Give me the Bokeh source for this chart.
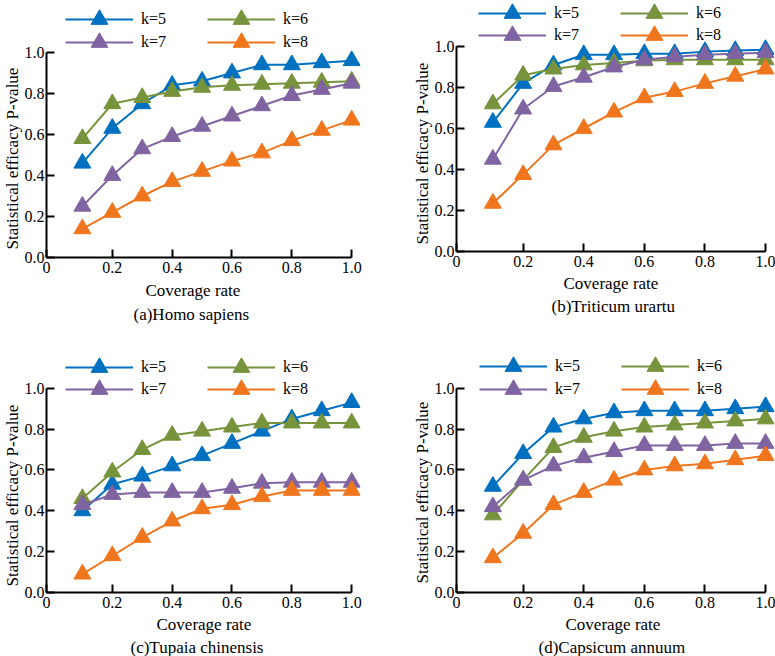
from bokeh.plotting import figure
from bokeh.layouts import row, column
from bokeh.models import (Range1d, FixedTicker, CustomJSTickFormatter, Legend,
                          LegendItem, Title)
from bokeh.embed import file_html
from bokeh.resources import INLINE

# ---- data -------------------------------------------------------------
coverage = [0.1, 0.2, 0.3, 0.4, 0.5, 0.6, 0.7, 0.8, 0.9, 1.0]
series_names = ["k=5", "k=6", "k=7", "k=8"]
series_colors = ["#0070C0", "#77933C", "#8064A2", "#F0761E"]

homo_k5 = [0.46, 0.63, 0.75, 0.84, 0.86, 0.90, 0.94, 0.94, 0.95, 0.96]
homo_k6 = [0.58, 0.75, 0.78, 0.81, 0.83, 0.84, 0.845, 0.85, 0.855, 0.86]
homo_k7 = [0.25, 0.40, 0.53, 0.59, 0.64, 0.69, 0.74, 0.79, 0.82, 0.85]
homo_k8 = [0.14, 0.22, 0.30, 0.37, 0.42, 0.47, 0.51, 0.57, 0.62, 0.67]

triticum_k5 = [0.63, 0.82, 0.91, 0.96, 0.96, 0.965, 0.965, 0.975, 0.98, 0.985]
triticum_k6 = [0.72, 0.86, 0.89, 0.91, 0.92, 0.93, 0.935, 0.935, 0.935, 0.935]
triticum_k7 = [0.45, 0.695, 0.805, 0.85, 0.90, 0.935, 0.95, 0.96, 0.965, 0.97]
triticum_k8 = [0.235, 0.375, 0.52, 0.60, 0.68, 0.75, 0.78, 0.82, 0.855, 0.89]

tupaia_k5 = [0.40, 0.53, 0.57, 0.62, 0.67, 0.73, 0.79, 0.85, 0.89, 0.93]
tupaia_k6 = [0.46, 0.59, 0.70, 0.77, 0.79, 0.81, 0.83, 0.83, 0.83, 0.83]
tupaia_k7 = [0.43, 0.48, 0.49, 0.49, 0.49, 0.51, 0.535, 0.54, 0.54, 0.54]
tupaia_k8 = [0.09, 0.18, 0.27, 0.35, 0.41, 0.43, 0.47, 0.50, 0.50, 0.50]

capsicum_k5 = [0.52, 0.68, 0.81, 0.85, 0.88, 0.89, 0.89, 0.89, 0.90, 0.91]
capsicum_k6 = [0.38, 0.55, 0.71, 0.76, 0.79, 0.81, 0.82, 0.83, 0.84, 0.85]
capsicum_k7 = [0.42, 0.55, 0.62, 0.66, 0.69, 0.72, 0.72, 0.72, 0.73, 0.73]
capsicum_k8 = [0.17, 0.29, 0.43, 0.49, 0.55, 0.60, 0.62, 0.63, 0.65, 0.67]

x_ticks = [-0.02, 0.2, 0.4, 0.6, 0.8, 1.0]
x_tick_labels = ["0", "0.2", "0.4", "0.6", "0.8", "1.0"]
y_ticks = [0.0, 0.2, 0.4, 0.6, 0.8, 1.0]
y_tick_labels = ["0.0", "0.2", "0.4", "0.6", "0.8", "1.0"]

x_title = "Coverage rate"
y_title = "Statistical efficacy P-value"

# ---- layout / style ---------------------------------------------------
FONT = "'Liberation Serif', 'Times New Roman', serif"
FONT_SIZE = "16px"
TITLE_SIZE = "17px"
PX_PER_X = 303.0
PX_PER_Y = 205.0
GLYPH_H = 42

panels = [
    dict(caption="(a)Homo sapiens", data=[homo_k5, homo_k6, homo_k7, homo_k8],
         width=387, height=328, left=42, right=27, top=2, bottom=71,
         legend_x=19, legend_rows=(19, 42),
         ytitle_at=8, xtitle_at=99, xtitle_gap=6, caption_at=87),
    dict(caption="(b)Triticum urartu",
         data=[triticum_k5, triticum_k6, triticum_k7, triticum_k8],
         width=388, height=322, left=69, right=1, top=2, bottom=71,
         legend_x=22, legend_rows=(13, 35),
         ytitle_at=7, xtitle_at=107, xtitle_gap=4, caption_at=95),
    dict(caption="(c)Tupaia chinensis",
         data=[tupaia_k5, tupaia_k6, tupaia_k7, tupaia_k8],
         width=387, height=328, left=42, right=27, top=10, bottom=63,
         legend_x=19, legend_rows=(40, 62),
         ytitle_at=6, xtitle_at=110, xtitle_gap=4, caption_at=84),
    dict(caption="(d)Capsicum annuum",
         data=[capsicum_k5, capsicum_k6, capsicum_k7, capsicum_k8],
         width=388, height=328, left=69, right=1, top=10, bottom=63,
         legend_x=23, legend_rows=(39, 62),
         ytitle_at=9, xtitle_at=109, xtitle_gap=4, caption_at=82),
]


def tick_formatter(positions, texts):
    return CustomJSTickFormatter(
        args=dict(positions=positions, texts=texts),
        code="const i = positions.findIndex(t => Math.abs(t - tick) < 1e-6);"
             "return i >= 0 ? texts[i] : '';")


def side_text(text, offset, standoff=0):
    return Title(text=text, align="left", offset=offset, standoff=standoff,
                 text_font=FONT, text_font_size=TITLE_SIZE,
                 text_font_style="normal", text_color="black")


def make_panel(cfg):
    frame_w = cfg["width"] - cfg["left"] - cfg["right"]
    frame_h = cfg["height"] - cfg["top"] - cfg["bottom"]
    x0 = x_ticks[0]
    p = figure(width=cfg["width"], height=cfg["height"], output_backend="svg",
               toolbar_location=None,
               x_range=Range1d(x0, x0 + frame_w / PX_PER_X),
               y_range=Range1d(0, frame_h / PX_PER_Y),
               min_border_left=cfg["left"], min_border_right=cfg["right"],
               min_border_top=cfg["top"], min_border_bottom=cfg["bottom"])
    p.outline_line_color = None
    p.grid.visible = False
    p.background_fill_color = "white"
    p.border_fill_color = "white"

    for ax, ticks, labels, bounds in ((p.xaxis[0], x_ticks, x_tick_labels, (x0, 1.0)),
                                      (p.yaxis[0], y_ticks, y_tick_labels, (0.0, 1.0))):
        ax.ticker = FixedTicker(ticks=ticks)
        ax.formatter = tick_formatter(ticks, labels)
        ax.bounds = bounds
        ax.axis_line_width = 2
        ax.axis_line_color = "black"
        ax.major_tick_line_width = 2
        ax.major_tick_line_color = "black"
        ax.major_tick_in = 8
        ax.major_tick_out = 0
        ax.minor_tick_line_color = None
        ax.major_label_text_font = FONT
        ax.major_label_text_font_size = FONT_SIZE
        ax.major_label_text_color = "black"
    p.xaxis.major_label_standoff = 4
    p.yaxis.major_label_standoff = 2

    # axis titles and panel caption
    p.add_layout(side_text(y_title, cfg["ytitle_at"]), "left")
    p.add_layout(side_text(x_title, cfg["xtitle_at"], cfg["xtitle_gap"]), "below")
    p.add_layout(side_text(cfg["caption"], cfg["caption_at"]), "below")

    items = []
    for name, color, values in zip(series_names, series_colors, cfg["data"]):
        ln = p.line(coverage, values, line_color=color, line_width=2)
        mk = p.scatter(coverage, values, marker="triangle", size=17,
                       fill_color=color, line_color=color)
        items.append(LegendItem(label=name, renderers=[ln, mk]))

    # two single-row legends: (k=5, k=6) above (k=7, k=8)
    frame_bottom = cfg["height"] - cfg["bottom"]
    for row_items, row_center in zip((items[:2], items[2:]), cfg["legend_rows"]):
        legend = Legend(items=row_items, orientation="horizontal",
                        location=(cfg["legend_x"], frame_bottom - row_center - GLYPH_H // 2),
                        glyph_width=68, glyph_height=GLYPH_H, label_height=GLYPH_H,
                        label_width=66, label_standoff=8, spacing=0,
                        padding=0, margin=0, background_fill_alpha=0,
                        border_line_alpha=0, label_text_font=FONT,
                        label_text_font_size=FONT_SIZE, label_text_color="black")
        p.add_layout(legend)
    return p


figs = [make_panel(c) for c in panels]
layout = column(row(figs[0], figs[1]), row(figs[2], figs[3]))

open("out.html", "w").write(file_html(layout, INLINE))
